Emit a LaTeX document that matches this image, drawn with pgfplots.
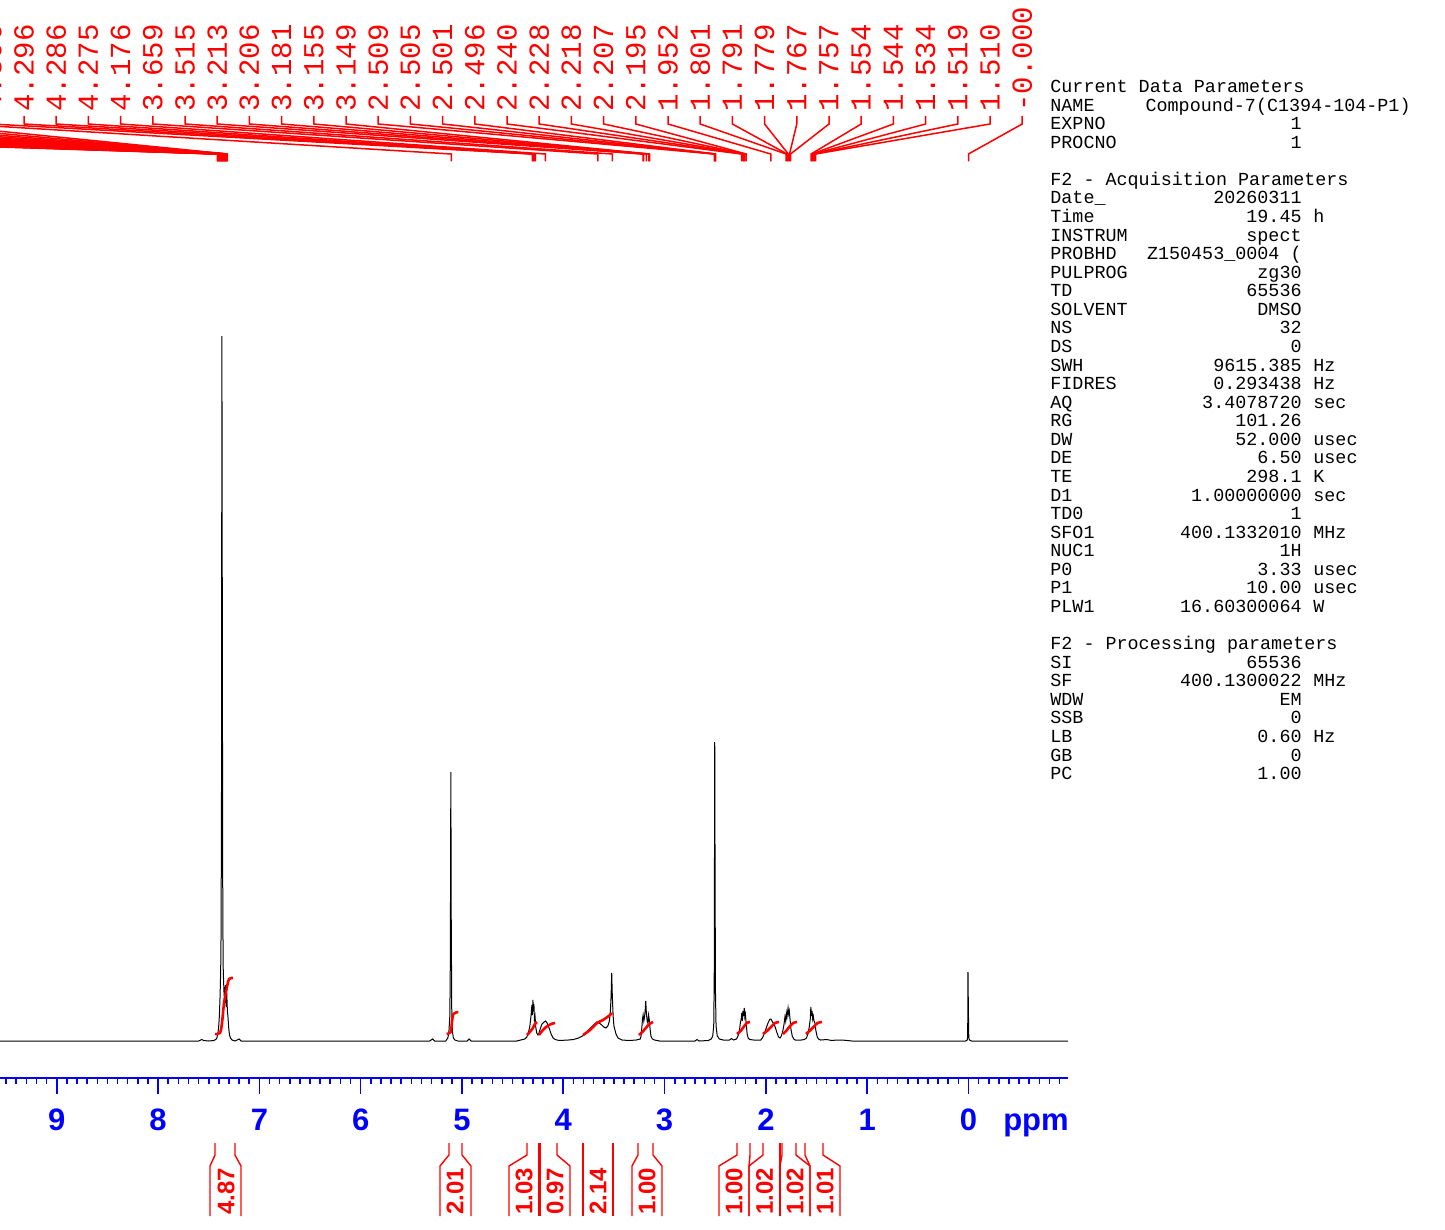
\documentclass[border=0pt]{standalone}
\usepackage{pgfplots}
\pgfplotsset{compat=1.18}
\usepackage{fontspec}
\setmainfont{Liberation Sans}
\newfontfamily\mono{Liberation Mono}
\definecolor{nmrred}{RGB}{255,0,0}
\definecolor{nmrblue}{RGB}{0,0,255}
\begin{document}
\begin{tikzpicture}
\useasboundingbox (0pt,0pt) rectangle (722.5pt,-615pt);
\clip (0pt,0pt) rectangle (722.5pt,-615pt);
\begin{axis}[
  at={(0pt,-539pt)}, anchor=south west,
  scale only axis, width=534pt, height=539pt,
  x dir=reverse, xmin=-0.9822, xmax=9.5607,
  ymin=-37, ymax=1041,
  axis x line=bottom, axis y line=none,
  x axis line style={-, nmrblue, line width=1pt},
  xtick={0,1,2,3,4,5,6,7,8,9},
  minor xtick={-0.9,-0.8,...,9.5},
  tick align=outside,
  major tick length=8pt, minor tick length=3pt,
  xtick style={nmrblue, line width=0.8pt},
  xticklabel style={text=nmrblue, font=\bfseries\fontsize{15.5}{16}\selectfont, yshift=-4pt},
  /pgf/number format/assume math mode=true,
]
% spectrum
\addplot[black, line width=0.5pt] coordinates {
(9.56,0) (7.60,0) (7.57,1.5) (7.55,0.5) (7.50,0) (7.45,0.5) (7.43,1.5) (7.42,3) (7.41,7)
(7.402,14) (7.395,25) (7.388,45) (7.382,70) (7.378,110) (7.374,250) (7.370,705) (7.366,420)
(7.362,160) (7.358,76) (7.354,62) (7.348,45) (7.342,54) (7.337,38) (7.332,56) (7.327,34)
(7.322,48) (7.316,30) (7.310,24) (7.302,12) (7.295,6) (7.285,3) (7.27,1) (7.24,0) (7.20,2)
(7.18,0) (5.32,0) (5.29,2) (5.27,0) (5.16,0) (5.14,3) (5.13,8) (5.12,25) (5.115,80)
(5.110,269) (5.106,120) (5.101,30) (5.095,10) (5.085,3) (5.07,1) (5.04,0) (4.95,0) (4.93,2)
(4.91,0) (4.46,0) (4.42,1) (4.38,2) (4.36,4) (4.345,8) (4.33,15) (4.322,22) (4.316,28)
(4.310,36) (4.305,26) (4.300,41) (4.295,30) (4.290,37) (4.285,22) (4.279,25) (4.272,14)
(4.262,8) (4.25,6) (4.24,8) (4.225,13) (4.21,17) (4.19,19) (4.175,20) (4.16,18) (4.14,13)
(4.12,7) (4.10,3) (4.08,1.5) (4.04,0.5) (3.95,1) (3.90,1.5) (3.85,3) (3.81,5) (3.77,9)
(3.73,13) (3.70,16) (3.67,19) (3.645,18) (3.62,16) (3.60,14) (3.58,13) (3.56,15) (3.545,20)
(3.535,30) (3.528,45) (3.522,68) (3.516,45) (3.508,25) (3.50,15) (3.48,7) (3.46,3) (3.42,1)
(3.35,0.5) (3.28,1) (3.24,2) (3.232,5) (3.224,14) (3.218,22) (3.212,26) (3.205,20)
(3.198,24) (3.192,30) (3.186,40) (3.18,28) (3.172,20) (3.165,18) (3.158,26) (3.152,22)
(3.145,14) (3.135,5) (3.12,2) (3.10,1) (3.05,0) (2.70,0) (2.68,1.5) (2.66,0) (2.57,0.5)
(2.54,2) (2.525,5) (2.515,15) (2.510,60) (2.507,200) (2.505,299) (2.502,180) (2.498,50)
(2.492,15) (2.48,5) (2.46,2) (2.42,1) (2.36,1) (2.34,2.5) (2.32,1) (2.29,2) (2.275,5)
(2.262,10) (2.252,18) (2.244,22) (2.238,28) (2.232,20) (2.226,30) (2.220,25) (2.214,33)
(2.208,24) (2.202,27) (2.195,18) (2.185,7) (2.175,3) (2.16,1.5) (2.12,1) (2.05,1) (2.03,4)
(2.01,9) (1.99,15) (1.975,19) (1.96,22) (1.95,22) (1.935,19) (1.92,17) (1.905,13) (1.89,8)
(1.875,4) (1.86,3) (1.848,5) (1.835,9) (1.822,16) (1.812,24) (1.805,20) (1.798,28)
(1.792,24) (1.781,33) (1.775,27) (1.769,30) (1.762,22) (1.753,12) (1.74,5) (1.725,2)
(1.71,1) (1.65,1) (1.62,1.5) (1.60,3) (1.585,7) (1.572,14) (1.562,22) (1.556,34)
(1.550,25) (1.544,30) (1.538,22) (1.532,25) (1.525,20) (1.516,18) (1.506,10) (1.493,4)
(1.48,2) (1.46,1) (1.40,1.5) (1.35,0.5) (1.30,1) (1.25,1) (1.20,0.5) (1.15,0) (0.03,0)
(0.012,1) (0.008,5) (0.005,69) (0.001,30) (-0.003,3) (-0.01,1) (-0.03,0) (-0.98,0)
};
% integral curves
\addplot[nmrred, line width=1.3pt, smooth] coordinates {(7.438,7) (7.389,8) (7.369,18) (7.349,38) (7.320,54) (7.300,62) (7.261,63)};
\addplot[nmrred, line width=1.3pt, smooth] coordinates {(5.151,7) (5.111,9) (5.101,17) (5.085,27) (5.036,29)};
\addplot[nmrred, line width=1.3pt, smooth] coordinates {(4.358,6) (4.33,9) (4.30,13) (4.28,17) (4.26,19)};
\addplot[nmrred, line width=1.3pt, smooth] coordinates {(4.240,6) (4.21,10) (4.17,14) (4.12,17) (4.08,18)};
\addplot[nmrred, line width=1.3pt, smooth] coordinates {(3.805,6) (3.736,11) (3.667,18) (3.608,21) (3.539,26) (3.519,28)};
\addplot[nmrred, line width=1.3pt, smooth] coordinates {(3.253,6) (3.22,9) (3.185,13) (3.15,17) (3.114,19)};
\addplot[nmrred, line width=1.3pt, smooth] coordinates {(2.285,7) (2.25,10) (2.22,14) (2.19,18) (2.157,19)};
\addplot[nmrred, line width=1.3pt, smooth] coordinates {(2.029,7) (1.99,10) (1.95,14) (1.91,18) (1.871,19)};
\addplot[nmrred, line width=1.3pt, smooth] coordinates {(1.831,7) (1.80,10) (1.77,14) (1.73,18) (1.693,19)};
\addplot[nmrred, line width=1.3pt, smooth] coordinates {(1.604,7) (1.57,10) (1.53,14) (1.49,18) (1.446,19)};
\end{axis}
\begin{scope}[x=0.5pt,y=-0.5pt]
\node[anchor=base, inner sep=0pt, text=nmrblue, font=\bfseries\fontsize{15.5}{16}\selectfont] at (1036,1130) {ppm};
% peak-label connector lines (labels left of the frame are off the page)
\foreach \ppm [count=\i from -23] in {
7.414,7.409,7.404,7.399,7.394,7.389,7.384,7.379,7.374,7.370,7.365,7.360,7.355,7.350,
7.345,7.340,7.335,7.330,7.325,7.320,7.315,5.105,4.306,
4.296,4.286,4.275,4.176,3.659,3.515,3.213,3.206,3.181,3.155,3.149,2.509,2.505,2.501,
2.496,2.240,2.228,2.218,2.207,2.195,1.952,1.801,1.791,1.779,1.767,1.757,1.554,1.544,
1.534,1.519,1.510,0.000}{
  \pgfmathsetmacro\xl{24+32.2*\i}
  \pgfmathsetmacro\xp{968.5-101.3*\ppm}
  \draw[nmrred, line width=0.75pt] (\xl,116) -- (\xl,124) -- (\xp,154) -- (\xp,161.5);
}
% visible peak labels
\foreach \lab [count=\i from -1] in {
4.306,4.296,4.286,4.275,4.176,3.659,3.515,3.213,3.206,3.181,3.155,3.149,2.509,2.505,
2.501,2.496,2.240,2.228,2.218,2.207,2.195,1.952,1.801,1.791,1.779,1.767,1.757,1.554,
1.544,1.534,1.519,1.510,-0.000}{
  \pgfmathsetmacro\xl{24+32.2*\i}
  \node[rotate=90, anchor=west, inner sep=0pt, text=nmrred,
        font=\mono\fontsize{14.5}{15}\selectfont] at (\xl,112) {\lab};
}
% integral brackets
\foreach \lt/\rt/\lb/\rb/\c/\v in {
215/235/210/241/226/4.87, 449/462/440/471/455/2.01, 527/539/509/539/524/1.03,
540/557/540/570/555/0.97, 583/613/583/613/598/2.14, 638/653/632/662/647/1.00,
737/750/719/749/734/1.00, 763/780/749/780/764.5/1.02, 782/796/780/810/795/1.02,
805/823/810/840/825/1.01}{
  \draw[nmrred, line width=0.7pt] (\lt,1143) -- (\lt,1155) -- (\lb,1166) -- (\lb,1216);
  \draw[nmrred, line width=0.7pt] (\rt,1143) -- (\rt,1155) -- (\rb,1166) -- (\rb,1216);
  \node[rotate=90, inner sep=0pt, text=nmrred, font=\bfseries\fontsize{12}{12}\selectfont] at (\c,1191) {\v};
}
% parameter block
\foreach \k/\a in {0/Current Data Parameters, 5/F2 - Acquisition Parameters, 30/F2 - Processing parameters}{
  \node[anchor=base west, inner sep=0pt, font=\mono\fontsize{9.2}{10}\selectfont] at (1050,92.5+18.57*\k) {\a};
}
\foreach \k/\a/\b/\c in {
1/NAME/Compound-7(C1394-104-P1)/, 2/EXPNO/1/, 3/PROCNO/1/,
6/Date\_/20260311/, 7/Time/19.45/h, 8/INSTRUM/spect/, 9/PROBHD/Z150453\_0004 (/,
10/PULPROG/zg30/, 11/TD/65536/, 12/SOLVENT/DMSO/, 13/NS/32/, 14/DS/0/,
15/SWH/9615.385/Hz, 16/FIDRES/0.293438/Hz, 17/AQ/3.4078720/sec, 18/RG/101.26/,
19/DW/52.000/usec, 20/DE/6.50/usec, 21/TE/298.1/K, 22/D1/1.00000000/sec, 23/TD0/1/,
24/SFO1/400.1332010/MHz, 25/NUC1/1H/, 26/P0/3.33/usec, 27/P1/10.00/usec,
28/PLW1/16.60300064/W, 31/SI/65536/, 32/SF/400.1300022/MHz, 33/WDW/EM/, 34/SSB/0/,
35/LB/0.60/Hz, 36/GB/0/, 37/PC/1.00/}{
  \node[anchor=base west, inner sep=0pt, font=\mono\fontsize{9.2}{10}\selectfont] at (1050,92.5+18.57*\k) {\a};
  \ifnum\k=1
    \node[anchor=base east, inner sep=0pt, font=\mono\fontsize{9.2}{10}\selectfont] at (1411,92.5+18.57*\k) {\b};
  \else
    \node[anchor=base east, inner sep=0pt, font=\mono\fontsize{9.2}{10}\selectfont] at (1302,92.5+18.57*\k) {\b};
  \fi
  \node[anchor=base west, inner sep=0pt, font=\mono\fontsize{9.2}{10}\selectfont] at (1313,92.5+18.57*\k) {\c};
}
\end{scope}
\end{tikzpicture}
\end{document}
